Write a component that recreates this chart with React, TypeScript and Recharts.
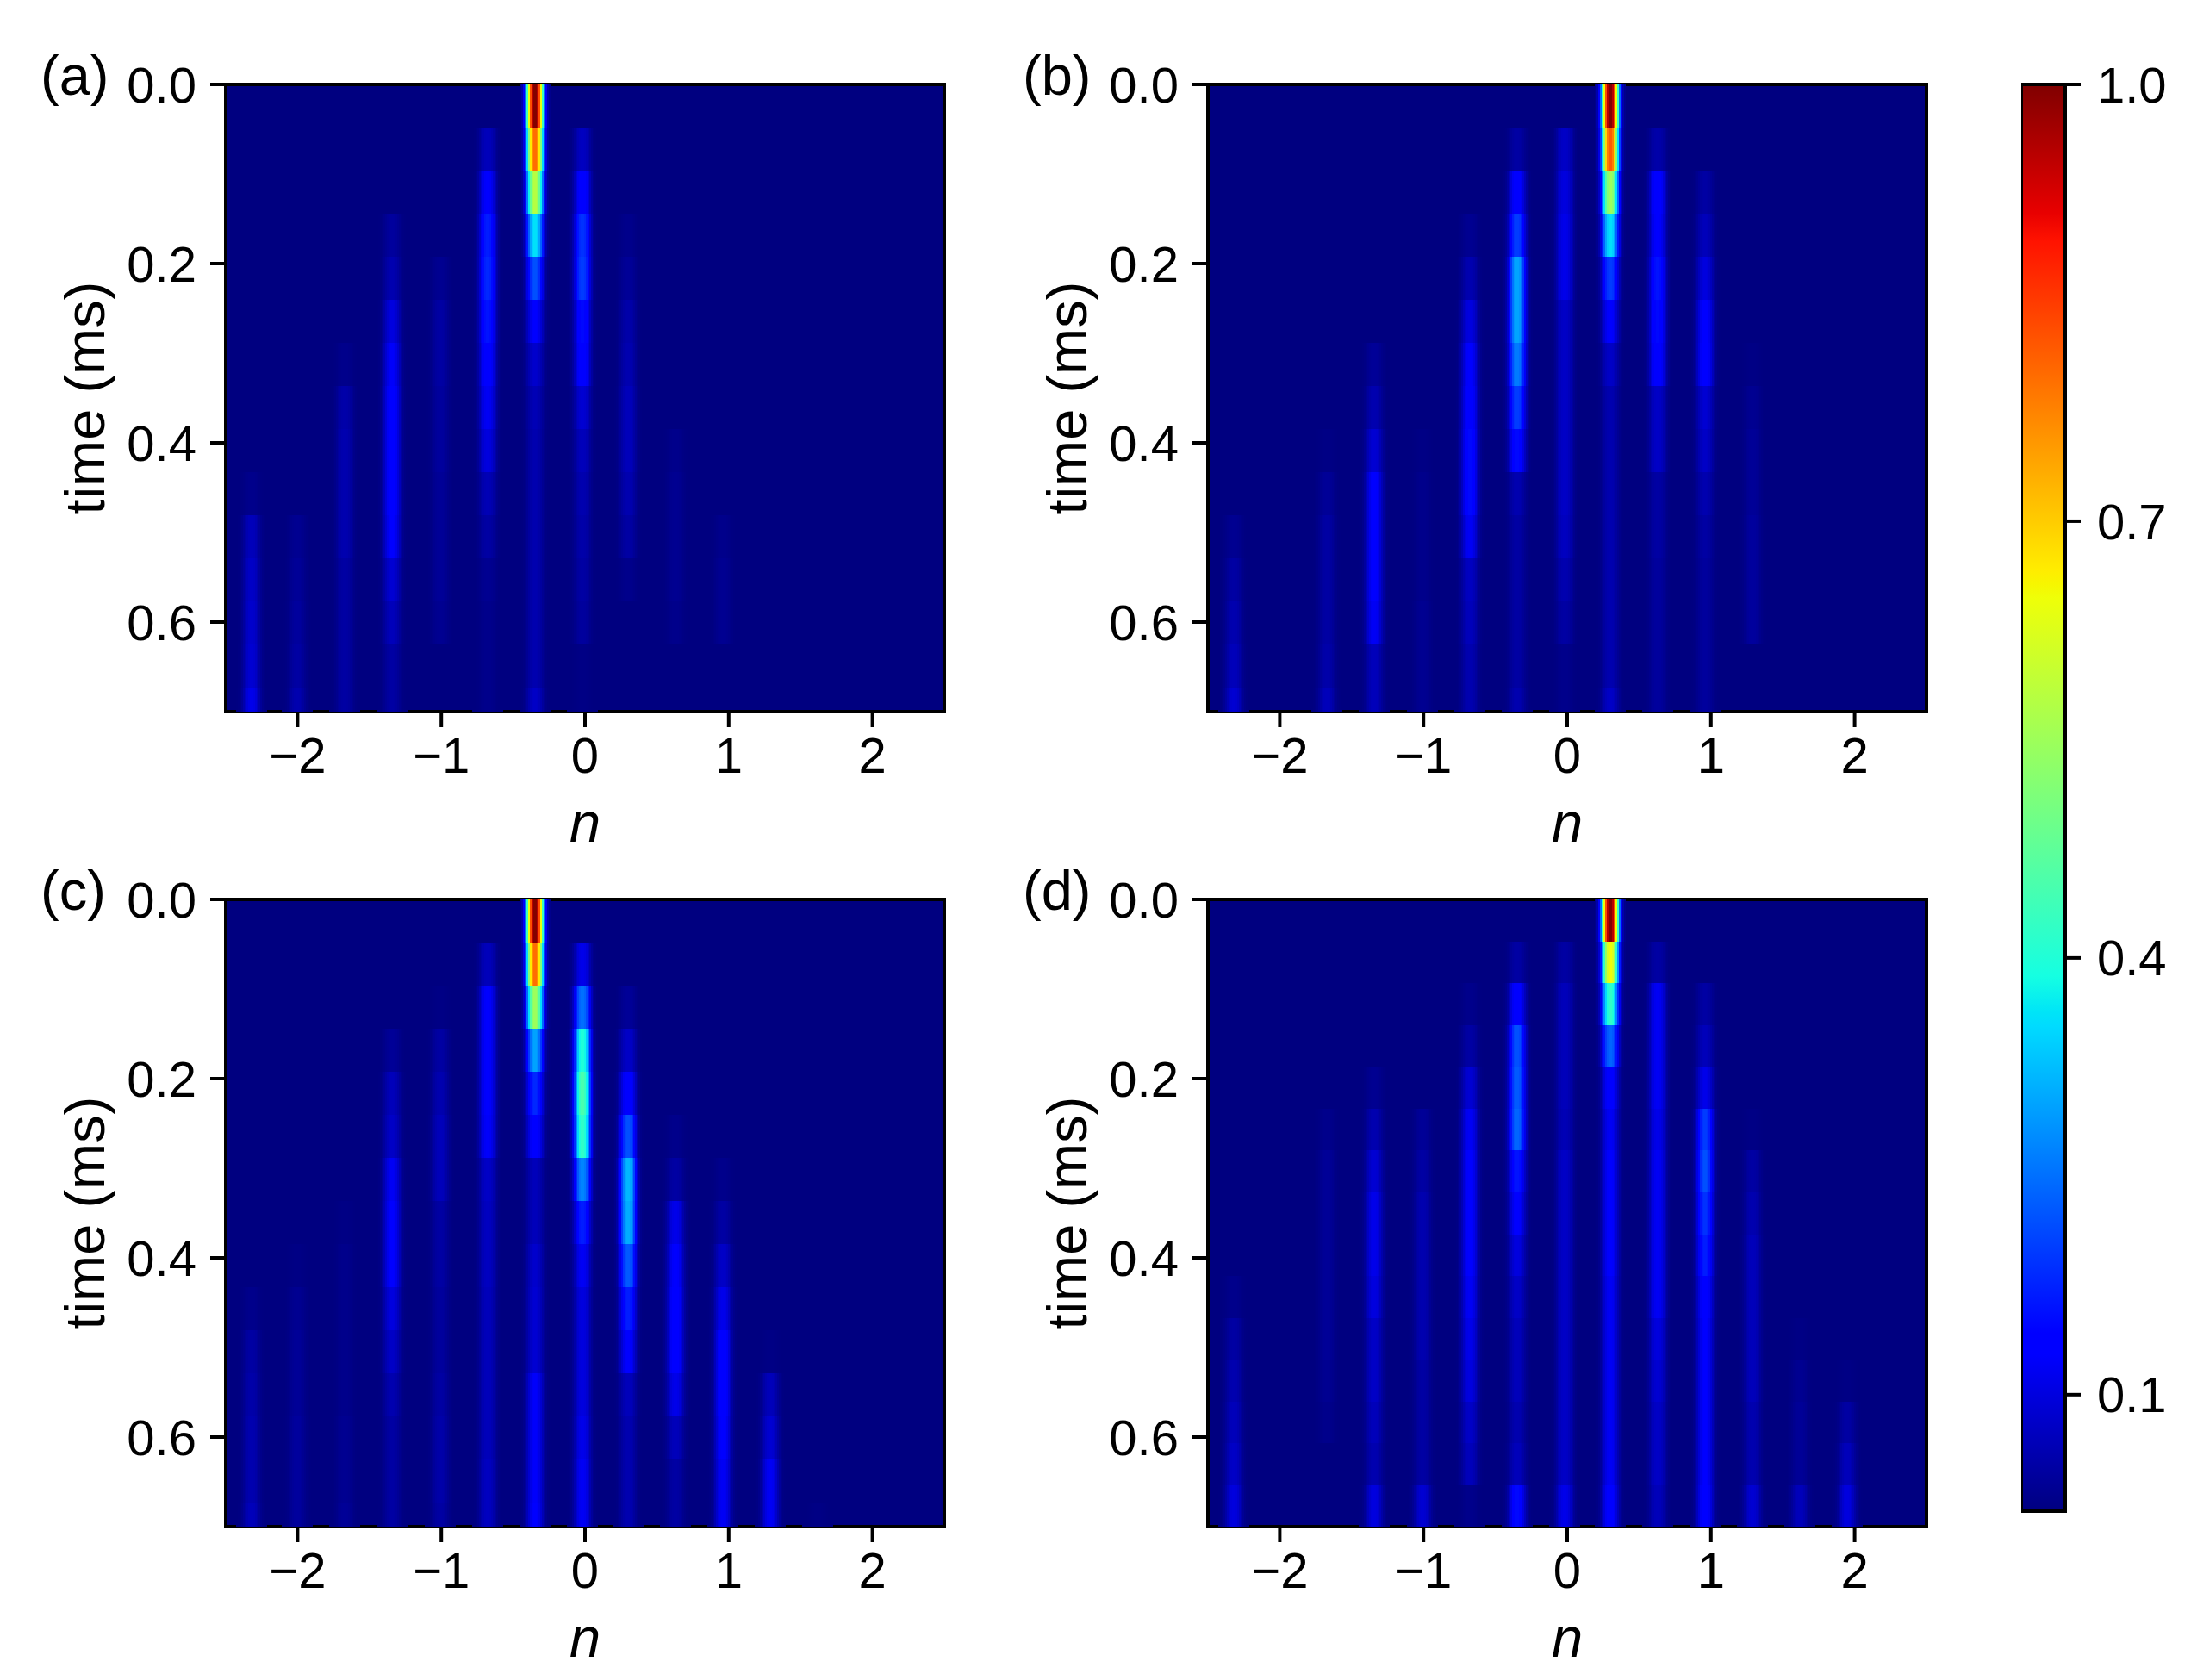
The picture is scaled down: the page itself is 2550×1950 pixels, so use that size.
import {
  Bar,
  BarChart,
  ReferenceArea,
  Scatter,
  ScatterChart,
  XAxis,
  YAxis,
} from "recharts";

// diffraction orders (n) where the peaks sit
const ORDERS = [-2.32, -2.0, -1.67, -1.34, -1.01, -0.68, -0.35, -0.02, 0.3, 0.63, 0.96, 1.29, 1.62, 1.95];

const X_TICKS = [-2, -1, 0, 1, 2];
const Y_TICKS = [0, 0.2, 0.4, 0.6];
const CBAR_TICKS = [0.1, 0.4, 0.7, 1.0];

const VMIN = 0.02;
const VMAX = 1;
const TMAX = 0.7;

// frame spacing in ms, panel (d) was sampled a bit finer
const STEP_ABC = 0.0481;
const STEP_D = 0.0467;

// peak intensity, one list per order, one value per frame
const PANEL_A = [
  [0, 0, 0, 0, 0, 0, 0, 0, 0, 0.03, 0.07, 0.08, 0.085, 0.09, 0.11],
  [0, 0, 0, 0, 0, 0, 0, 0, 0, 0, 0.035, 0.04, 0.045, 0.05, 0.06],
  [0, 0, 0, 0, 0, 0, 0.03, 0.055, 0.06, 0.06, 0.06, 0.05, 0.05, 0.05, 0.05],
  [0, 0, 0, 0.045, 0.06, 0.1, 0.125, 0.14, 0.14, 0.14, 0.13, 0.09, 0.07, 0.05, 0.05],
  [0, 0, 0, 0, 0.035, 0.05, 0.05, 0.045, 0.045, 0.04, 0.04, 0.04, 0.035, 0, 0],
  [0, 0.07, 0.13, 0.17, 0.18, 0.16, 0.14, 0.12, 0.1, 0.065, 0.05, 0.035, 0.03, 0.03, 0.03],
  [1.0, 0.8, 0.58, 0.36, 0.22, 0.13, 0.085, 0.065, 0.06, 0.06, 0.06, 0.06, 0.06, 0.06, 0.08],
  [0, 0.075, 0.14, 0.19, 0.2, 0.15, 0.14, 0.09, 0.07, 0.06, 0.055, 0.05, 0.045, 0.025, 0.025],
  [0, 0, 0, 0.03, 0.04, 0.055, 0.06, 0.07, 0.07, 0.06, 0.05, 0.03, 0, 0, 0],
  [0, 0, 0, 0, 0, 0, 0, 0, 0.03, 0.035, 0.035, 0.035, 0.03, 0, 0],
  [0, 0, 0, 0, 0, 0, 0, 0, 0, 0, 0.03, 0.035, 0.035, 0, 0],
  [0, 0, 0, 0, 0, 0, 0, 0, 0, 0, 0, 0, 0, 0, 0],
  [0, 0, 0, 0, 0, 0, 0, 0, 0, 0, 0, 0, 0, 0, 0],
  [0, 0, 0, 0, 0, 0, 0, 0, 0, 0, 0, 0, 0, 0, 0],
];

const PANEL_B = [
  [0, 0, 0, 0, 0, 0, 0, 0, 0, 0, 0.035, 0.05, 0.06, 0.07, 0.09],
  [0, 0, 0, 0, 0, 0, 0, 0, 0, 0, 0, 0, 0, 0, 0],
  [0, 0, 0, 0, 0, 0, 0, 0, 0.025, 0.04, 0.05, 0.05, 0.05, 0.055, 0.07],
  [0, 0, 0, 0, 0, 0, 0.04, 0.06, 0.09, 0.13, 0.13, 0.13, 0.12, 0.07, 0.07],
  [0, 0, 0, 0, 0, 0, 0, 0, 0.025, 0.03, 0.03, 0.03, 0.035, 0.035, 0.035],
  [0, 0, 0, 0.035, 0.06, 0.1, 0.13, 0.14, 0.15, 0.15, 0.12, 0.075, 0.07, 0.06, 0.06],
  [0, 0.05, 0.14, 0.2, 0.3, 0.3, 0.26, 0.2, 0.15, 0.06, 0.05, 0.05, 0.05, 0.05, 0.06],
  [0, 0.08, 0.1, 0.11, 0.11, 0.08, 0.08, 0.08, 0.08, 0.08, 0.075, 0.06, 0.05, 0.03, 0.03],
  [1.0, 0.82, 0.55, 0.36, 0.2, 0.13, 0.08, 0.06, 0.06, 0.06, 0.06, 0.06, 0.06, 0.06, 0.08],
  [0, 0.055, 0.14, 0.13, 0.16, 0.15, 0.14, 0.08, 0.08, 0.05, 0.05, 0.045, 0.045, 0.045, 0.045],
  [0, 0, 0.05, 0.07, 0.1, 0.135, 0.14, 0.09, 0.08, 0.06, 0.05, 0.045, 0.045, 0.045, 0.045],
  [0, 0, 0, 0, 0, 0, 0.025, 0.035, 0.04, 0.04, 0.045, 0.045, 0.045, 0, 0],
  [0, 0, 0, 0, 0, 0, 0, 0, 0, 0, 0, 0, 0, 0, 0],
  [0, 0, 0, 0, 0, 0, 0, 0, 0, 0, 0, 0, 0, 0, 0],
];

const PANEL_C = [
  [0, 0, 0, 0, 0, 0, 0, 0, 0, 0.03, 0.05, 0.055, 0.06, 0.06, 0.07],
  [0, 0, 0, 0, 0, 0, 0, 0, 0.025, 0.035, 0.04, 0.04, 0.045, 0.045, 0.045],
  [0, 0, 0, 0, 0, 0, 0, 0.025, 0.03, 0.03, 0.03, 0.03, 0.035, 0.035, 0.04],
  [0, 0, 0, 0.04, 0.07, 0.08, 0.12, 0.13, 0.13, 0.1, 0.08, 0.06, 0.05, 0.05, 0.05],
  [0, 0, 0.025, 0.05, 0.06, 0.07, 0.07, 0.05, 0.05, 0.045, 0.045, 0.05, 0.055, 0.055, 0.05],
  [0, 0.07, 0.13, 0.13, 0.13, 0.125, 0.08, 0.075, 0.075, 0.07, 0.07, 0.07, 0.07, 0.075, 0.075],
  [1.0, 0.8, 0.55, 0.3, 0.18, 0.14, 0.07, 0.07, 0.085, 0.09, 0.09, 0.125, 0.125, 0.125, 0.13],
  [0, 0.11, 0.25, 0.4, 0.45, 0.42, 0.27, 0.17, 0.12, 0.1, 0.1, 0.1, 0.11, 0.12, 0.12],
  [0, 0, 0.04, 0.08, 0.14, 0.22, 0.32, 0.31, 0.23, 0.17, 0.13, 0.07, 0.06, 0.06, 0.06],
  [0, 0, 0, 0, 0, 0.03, 0.05, 0.11, 0.13, 0.14, 0.14, 0.11, 0.07, 0.05, 0.05],
  [0, 0, 0, 0, 0, 0, 0.03, 0.05, 0.08, 0.11, 0.14, 0.14, 0.13, 0.12, 0.12],
  [0, 0, 0, 0, 0, 0, 0, 0, 0, 0, 0.025, 0.07, 0.09, 0.12, 0.12],
  [0, 0, 0, 0, 0, 0, 0, 0, 0, 0, 0, 0, 0, 0, 0.025],
  [0, 0, 0, 0, 0, 0, 0, 0, 0, 0, 0, 0, 0, 0, 0],
];

const PANEL_D = [
  [0, 0, 0, 0, 0, 0, 0, 0, 0, 0.03, 0.05, 0.06, 0.07, 0.08, 0.1],
  [0, 0, 0, 0, 0, 0, 0, 0, 0, 0, 0, 0, 0, 0, 0],
  [0, 0, 0, 0, 0, 0.03, 0.04, 0.04, 0.04, 0.04, 0.04, 0.035, 0.03, 0, 0],
  [0, 0, 0, 0, 0.035, 0.06, 0.09, 0.11, 0.11, 0.1, 0.08, 0.08, 0.07, 0.06, 0.1],
  [0, 0, 0, 0, 0, 0.04, 0.05, 0.06, 0.06, 0.06, 0.06, 0.05, 0.05, 0.05, 0.09],
  [0, 0, 0.03, 0.05, 0.09, 0.12, 0.13, 0.13, 0.13, 0.12, 0.11, 0.1, 0.08, 0.07, 0.03],
  [0, 0.05, 0.14, 0.22, 0.23, 0.24, 0.16, 0.13, 0.1, 0.08, 0.07, 0.07, 0.06, 0.07, 0.15],
  [0, 0.05, 0.07, 0.07, 0.07, 0.065, 0.08, 0.08, 0.08, 0.08, 0.08, 0.08, 0.08, 0.08, 0.11],
  [1.0, 0.65, 0.42, 0.24, 0.14, 0.12, 0.13, 0.13, 0.13, 0.12, 0.12, 0.12, 0.12, 0.12, 0.14],
  [0, 0.05, 0.12, 0.12, 0.12, 0.11, 0.12, 0.12, 0.12, 0.12, 0.1, 0.09, 0.08, 0.08, 0.07],
  [0, 0, 0.05, 0.07, 0.11, 0.2, 0.22, 0.19, 0.17, 0.14, 0.13, 0.13, 0.13, 0.13, 0.14],
  [0, 0, 0, 0, 0, 0.025, 0.05, 0.06, 0.07, 0.07, 0.07, 0.07, 0.06, 0.06, 0.09],
  [0, 0, 0, 0, 0, 0, 0, 0, 0, 0, 0.025, 0.035, 0.04, 0.04, 0.07],
  [0, 0, 0, 0, 0, 0, 0, 0, 0, 0, 0, 0.025, 0.05, 0.07, 0.1],
];

const CBAR_RANGE = [{ name: "scale", range: [VMIN, VMAX] }];

const FONT = '"Liberation Sans", Arial, sans-serif';
const BLACK = "#000";
const LW = 4;

const PLOT_W = 834;
const PLOT_H = 728;
const PLOT_TOP = 98;
const PLOT_LEFT = 262;
const PEAK_W = 9.5; // px, flat-topped peak profile
const PEAK_POW = 2.6;
const PEAK_HALF = 18; // px
const STRIP = 2; // px

// matplotlib jet
const JET_R = [[0, 0], [0.35, 0], [0.66, 1], [0.89, 1], [1, 0.5]];
const JET_G = [[0, 0], [0.125, 0], [0.375, 1], [0.64, 1], [0.91, 0], [1, 0]];
const JET_B = [[0, 0.5], [0.11, 1], [0.34, 1], [0.65, 0], [1, 0]];
const JET_NODES = [0, 0.11, 0.125, 0.34, 0.35, 0.375, 0.64, 0.65, 0.66, 0.89, 0.91, 1];

function lerp(table: number[][], s: number) {
  for (let i = 1; i < table.length; i++) {
    if (s <= table[i][0]) {
      const [x0, y0] = table[i - 1];
      const [x1, y1] = table[i];
      return y0 + ((y1 - y0) * (s - x0)) / (x1 - x0);
    }
  }
  return table[table.length - 1][1];
}

function jet(s: number) {
  const c = Math.max(0, Math.min(1, s));
  const ch = (t: number[][]) => Math.round(lerp(t, c) * 255);
  return `rgb(${ch(JET_R)},${ch(JET_G)},${ch(JET_B)})`;
}

const toColor = (v: number) => jet((v - VMIN) / (VMAX - VMIN));

// one frame of one order: a thin peak across n, flat in time
function PeakCell(props: any) {
  const { cx, cy, payload, rowH } = props;
  const top = cy - rowH / 2;
  const h = Math.min(top + rowH, PLOT_TOP + PLOT_H) - top;
  const strips = [];
  for (let d = -PEAK_HALF; d < PEAK_HALF; d += STRIP) {
    const mid = Math.abs(d + STRIP / 2);
    const v = VMIN + (payload.v - VMIN) * Math.exp(-Math.pow(mid / PEAK_W, PEAK_POW));
    strips.push(
      <rect key={d} x={cx + d} y={top} width={STRIP} height={h} fill={toColor(v)} shapeRendering="crispEdges" />,
    );
  }
  return <g>{strips}</g>;
}

function buildCells(panel: number[][], step: number) {
  const cells: { n: number; t: number; v: number }[] = [];
  panel.forEach((col, c) =>
    col.forEach((v, r) => {
      if (v > 0) cells.push({ n: ORDERS[c], t: (r + 0.5) * step, v });
    }),
  );
  return cells;
}

const fmtX = (v: number) => (v < 0 ? `\u2212${Math.abs(v)}` : `${v}`);
const tickStyle = { fontSize: 58, fontFamily: FONT, fill: BLACK };
const axisLine = { stroke: BLACK, strokeWidth: LW };

function Panel({ label, left, top, data, step }: any) {
  const rowH = (step / TMAX) * PLOT_H;
  return (
    <div style={{ position: "absolute", left, top }}>
      <ScatterChart
        width={PLOT_LEFT + PLOT_W + 30}
        height={PLOT_TOP + PLOT_H + 180}
        margin={{ top: PLOT_TOP, left: 0, right: 30, bottom: 0 }}
      >
        <XAxis
          type="number"
          dataKey="n"
          domain={[-2.5, 2.5]}
          ticks={X_TICKS}
          interval={0}
          height={180}
          tickSize={18}
          tickMargin={12}
          tickFormatter={fmtX}
          tick={tickStyle}
          axisLine={axisLine}
          tickLine={axisLine}
          label={{
            value: "n",
            position: "insideBottom",
            offset: 29,
            style: { fontSize: 65, fontStyle: "italic", fontFamily: FONT, fill: BLACK },
          }}
        />
        <YAxis
          type="number"
          dataKey="t"
          reversed
          domain={[0, TMAX]}
          ticks={Y_TICKS}
          interval={0}
          width={PLOT_LEFT}
          tickSize={18}
          tickMargin={16}
          tickFormatter={(v: number) => v.toFixed(1)}
          tick={tickStyle}
          axisLine={axisLine}
          tickLine={axisLine}
          label={{
            value: "time (ms)",
            angle: -90,
            position: "insideLeft",
            offset: 98,
            style: { fontSize: 65, fontFamily: FONT, fill: BLACK, textAnchor: "middle" },
          }}
        />
        <ReferenceArea x1={-2.5} x2={2.5} y1={0} y2={TMAX} fill={jet(0)} fillOpacity={1} stroke="none" />
        <Scatter
          data={data}
          isAnimationActive={false}
          shape={(p: any) => <PeakCell {...p} rowH={rowH} />}
        />
        <ReferenceArea x1={-2.5} x2={2.5} y1={0} y2={TMAX} fill="none" stroke={BLACK} strokeWidth={LW} />
        <text x={47} y={110} fontSize={65} fontFamily={FONT} fill={BLACK}>
          {label}
        </text>
      </ScatterChart>
    </div>
  );
}

function Colorbar() {
  return (
    <div style={{ position: "absolute", left: 2346, top: 0 }}>
      <BarChart
        width={204}
        height={1800}
        data={CBAR_RANGE}
        margin={{ top: 98, left: 0, right: 0, bottom: 46 }}
        barCategoryGap={0}
      >
        <defs>
          <linearGradient id="jetGrad" x1="0" y1="1" x2="0" y2="0">
            {JET_NODES.map((s) => (
              <stop key={s} offset={s} stopColor={jet(s)} />
            ))}
          </linearGradient>
        </defs>
        <XAxis dataKey="name" hide />
        <YAxis
          type="number"
          orientation="right"
          domain={[VMIN, VMAX]}
          ticks={CBAR_TICKS}
          interval={0}
          width={153}
          tickSize={18}
          tickMargin={19}
          tickFormatter={(v: number) => v.toFixed(1)}
          tick={tickStyle}
          axisLine={false}
          tickLine={axisLine}
        />
        <Bar dataKey="range" fill="url(#jetGrad)" stroke={BLACK} strokeWidth={LW} isAnimationActive={false} />
      </BarChart>
    </div>
  );
}

const DATA_A = buildCells(PANEL_A, STEP_ABC);
const DATA_B = buildCells(PANEL_B, STEP_ABC);
const DATA_C = buildCells(PANEL_C, STEP_ABC);
const DATA_D = buildCells(PANEL_D, STEP_D);

export default function App() {
  return (
    <div style={{ position: "absolute", left: 0, top: 0, width: 2550, height: 1950, background: "#fff" }}>
      <Panel label="(a)" left={0} top={0} data={DATA_A} step={STEP_ABC} />
      <Panel label="(b)" left={1140} top={0} data={DATA_B} step={STEP_ABC} />
      <Panel label="(c)" left={0} top={946} data={DATA_C} step={STEP_ABC} />
      <Panel label="(d)" left={1140} top={946} data={DATA_D} step={STEP_D} />
      <Colorbar />
    </div>
  );
}
